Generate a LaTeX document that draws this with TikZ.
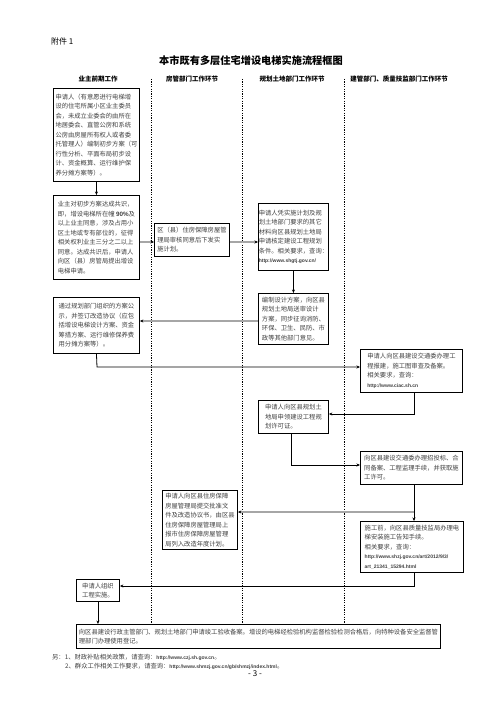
\documentclass[tikz,border=0pt]{standalone}
\usepackage{fontspec}
\setmainfont{Noto Sans CJK SC}
\newfontfamily\urlf{Liberation Sans}
\usetikzlibrary{arrows.meta}
\tikzset{
  box/.style={draw, line width=0.9bp, anchor=north west, inner sep=0pt, align=left,
    font=\fontsize{6.3bp}{9.5bp}\selectfont, text=black!75},
  arr/.style={-{Stealth[length=3.5bp,width=3bp]}, line width=0.8bp},
  garr/.style={-{Stealth[length=3.5bp,width=3bp,color=black]}, draw=gray!70, line width=1.6bp},
  colsep/.style={line width=0.8bp, dash pattern=on 1.2bp off 1.2bp},
  head/.style={font=\bfseries\fontsize{6.5bp}{8bp}\selectfont},
  note/.style={anchor=west, font=\fontsize{6.3bp}{8bp}\selectfont, text=black!75, inner sep=0pt},
}
\newcommand{\uu}[1]{{\urlf\bfseries\fontsize{5bp}{9.5bp}\selectfont #1}}
\begin{document}
\begin{tikzpicture}[x=1bp,y=-1bp]
\useasboundingbox (0,0) rectangle (503,711);
% header texts
\node[anchor=west, inner sep=0pt, font=\fontsize{8bp}{9bp}\selectfont] (fj) at (51,41) {附件 1};
\node[inner sep=0pt, font=\bfseries\fontsize{10.2bp}{12bp}\selectfont] (title) at (251,61) {本市既有多层住宅增设电梯实施流程框图};
\node[head] (h1) at (98,79) {业主前期工作};
\node[head] (h2) at (192,79) {房管部门工作环节};
\node[head] (h3) at (292,79) {规划土地部门工作环节};
\node[head] (h4) at (399,79) {建管部门、质量技监部门工作环节};
% column separators
\coordinate (s1t) at (151,79); \coordinate (s1b) at (151,623);
\coordinate (s2t) at (242,79); \coordinate (s2b) at (242,623);
\coordinate (s3t) at (344,79); \coordinate (s3b) at (344,623);
\draw[colsep] (s1t) -- (s1b);
\draw[colsep] (s2t) -- (s2b);
\draw[colsep] (s3t) -- (s3b);
% boxes
\node[box, minimum width=86bp, minimum height=93bp] (b1) at (53,88) {申请人（有意愿进行电梯增\\设的住宅所属小区业主委员\\会，未成立业委会的由所在\\地居委会、直管公房和系统\\公房由房屋所有权人或者委\\托管理人）编制初步方案（可\\行性分析、平面布局初步设\\计、资金概算、运行维护保\\养分摊方案等）。};
\node[box, minimum width=86bp, minimum height=84bp] (b2) at (53,195) {业主对初步方案达成共识，\\即，增设电梯所在幢 {\urlf\bfseries 90\%}及\\以上业主同意，涉及占用小\\区土地或专有部位的，征得\\相关权利业主三分之二以上\\同意。达成共识后，申请人\\向区（县）房管局提出增设\\电梯申请。};
\node[box, minimum width=75bp, minimum height=33bp] (b3) at (154,223) {区（县）住房保障房屋管\\理局审核同意后下发实\\施计划。};
\node[box, minimum width=70bp, minimum height=67bp] (b4) at (258,203) {申请人凭实施计划及规\\划土地部门要求的其它\\材料向区县规划土地局\\申请核定建设工程规划\\条件。相关要求，查询：\\\uu{http://www.shgtj.gov.cn/}};
\node[box, minimum width=70bp, minimum height=51bp] (b5) at (258,293) {编制设计方案，向区县\\规划土地局送审设计\\方案，同步征询消防、\\环保、卫生、民防、市\\政等其他部门意见。};
\node[box, minimum width=86bp, minimum height=56bp] (b6) at (53,297) {通过规划部门组织的方案公\\示，并签订改造协议（应包\\括增设电梯设计方案、资金\\筹措方案、运行维修保养费\\用分摊方案等）。};
\node[box, minimum width=102bp, minimum height=43bp] (b7) at (360,349) {申请人向区县建设交通委办理工\\程报建，施工图审查及备案。\\相关要求，查询：\\\uu{http://www.ciac.sh.cn}\hspace{40bp}};
\node[box, minimum width=70bp, minimum height=33bp] (b8) at (258,400) {申请人向区县规划土\\地局申领建设工程规\\划许可证。};
\node[box, minimum width=102bp, minimum height=33bp] (b9) at (360,451) {向区县建设交通委办理招投标、合\\同备案、工程监理手续，并获取施\\工许可。};
\node[box, minimum width=75bp, minimum height=59bp] (b10) at (162,490) {申请人向区县住房保障\\房屋管理局提交批准文\\件及改造协议书，由区县\\住房保障房屋管理局上\\报市住房保障房屋管理\\局列入改造年度计划。};
\node[box, minimum width=103bp, minimum height=51bp] (b11) at (360,521) {施工前，向区县质量技监局办理电\\梯安装施工告知手续。\\相关要求，查询：\\\uu{http://www.shzj.gov.cn/art/2012/9/3/}\\\uu{art\_21341\_15294.html}};
\node[box, minimum width=43bp, minimum height=22bp] (b12) at (76,579) {申请人组织\\工程实施。};
\node[box, minimum width=364bp, minimum height=24bp] (b13) at (76,624) {向区县建设行政主管部门、规划土地部门申请竣工验收备案。增设的电梯经检验机构监督检验检测合格后，向特种设备安全监督管\\理部门办理使用登记。};
% connectors
\draw[arr] (b1.south) -- (b2.north);
\draw[garr] (b2.east |- 0,242) -- (b3.west |- 0,242);
\draw[garr] (b3.east |- 0,242) -- (b4.west |- 0,242);
\draw[arr] (b4.south) -- (b5.north);
\draw[garr] (b5.west |- 0,321) -- (b6.east |- 0,321);
\coordinate (c6) at (97,367);
\draw[arr] (b6.south) -- (c6) -- (b7.west |- c6);
\coordinate (c7) at (414,414);
\draw[arr] (b7.south -| c7) -- (c7) -- (b8.east |- c7);
\coordinate (c8) at (291,465);
\draw[arr] (b8.south -| c8) -- (c8) -- (b9.west |- c8);
\coordinate (c9) at (414,512);
\draw[arr] (b9.south -| c9) -- (b11.north -| c9);
\draw[garr] (c9) -- (b10.east |- c9);
\coordinate (c11) at (414,586);
\draw[arr] (b11.south -| c11) -- (c11) -- (b12.east |- c11);
\draw[arr] (b12.south) -- (b13.north -| b12.south);
% notes
\node[note] (n1) at (52,657) {另：1、财政补贴相关政策，请查询：\uu{http://www.czj.sh.gov.cn}。};
\node[note] (n2) at (65,666) {2、群众工作相关工作要求，请查询：\uu{http://www.shmzj.gov.cn/gb/shmzj/index.html}。};
\node[inner sep=0pt, font=\fontsize{8bp}{9bp}\selectfont] (pg) at (255,674) {- 3 -};
\end{tikzpicture}
\end{document}
